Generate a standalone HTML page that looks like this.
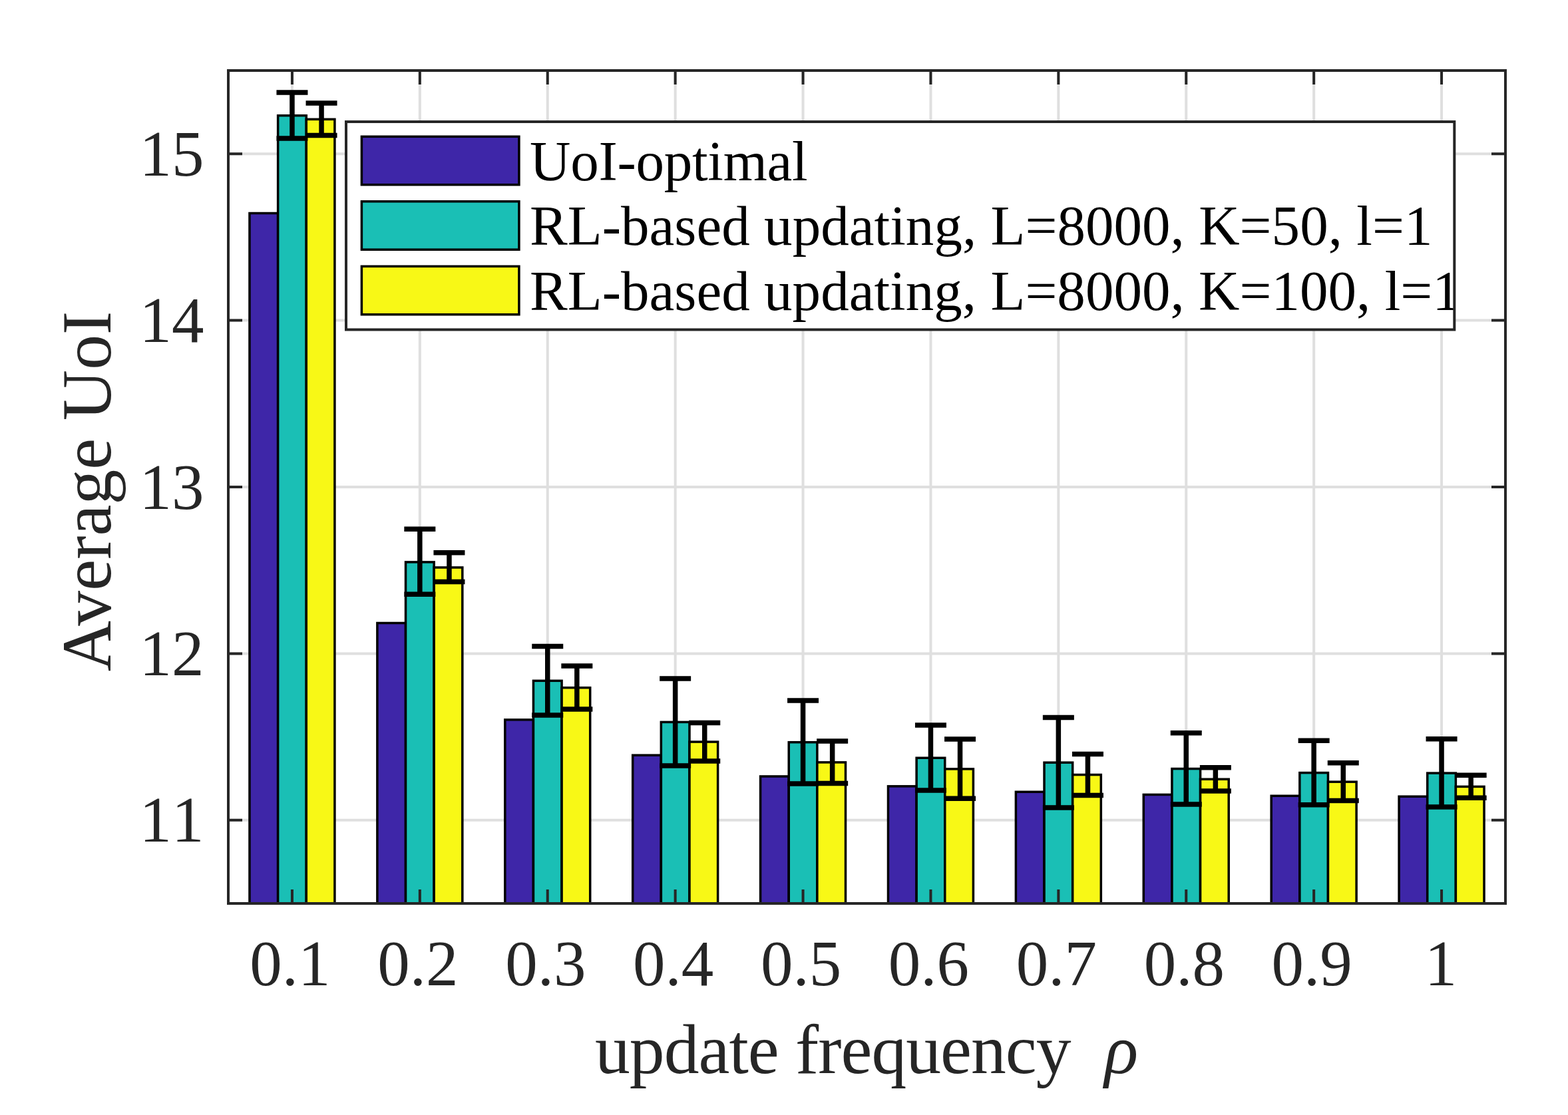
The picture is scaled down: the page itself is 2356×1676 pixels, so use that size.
<!DOCTYPE html>
<html><head><meta charset="utf-8"><title>Average UoI vs update frequency</title>
<style>html,body{margin:0;padding:0;background:#fff;}body{width:2356px;height:1676px;overflow:hidden;}svg{display:block;}</style>
</head><body>
<svg width="2356" height="1676" viewBox="0 0 2356 1676">
<rect x="0" y="0" width="2356" height="1676" fill="#ffffff"/>
<path d="M438.95 106.0V1358.0M630.85 106.0V1358.0M822.75 106.0V1358.0M1014.65 106.0V1358.0M1206.55 106.0V1358.0M1398.45 106.0V1358.0M1590.35 106.0V1358.0M1782.25 106.0V1358.0M1974.15 106.0V1358.0M2166.05 106.0V1358.0M343.0 1232.80H2262.0M343.0 982.40H2262.0M343.0 732.00H2262.0M343.0 481.60H2262.0M343.0 231.20H2262.0" stroke="#dfdfdf" stroke-width="4" fill="none"/>
<rect x="374.98" y="320.50" width="42.64" height="1047.50" fill="#3e26a8" stroke="#000" stroke-width="3.5"/>
<rect x="566.88" y="936.50" width="42.64" height="431.50" fill="#3e26a8" stroke="#000" stroke-width="3.5"/>
<rect x="758.78" y="1081.85" width="42.64" height="286.15" fill="#3e26a8" stroke="#000" stroke-width="3.5"/>
<rect x="950.68" y="1135.20" width="42.64" height="232.80" fill="#3e26a8" stroke="#000" stroke-width="3.5"/>
<rect x="1142.58" y="1167.00" width="42.64" height="201.00" fill="#3e26a8" stroke="#000" stroke-width="3.5"/>
<rect x="1334.48" y="1181.85" width="42.64" height="186.15" fill="#3e26a8" stroke="#000" stroke-width="3.5"/>
<rect x="1526.38" y="1190.30" width="42.64" height="177.70" fill="#3e26a8" stroke="#000" stroke-width="3.5"/>
<rect x="1718.28" y="1194.45" width="42.64" height="173.55" fill="#3e26a8" stroke="#000" stroke-width="3.5"/>
<rect x="1910.18" y="1196.30" width="42.64" height="171.70" fill="#3e26a8" stroke="#000" stroke-width="3.5"/>
<rect x="2102.08" y="1197.25" width="42.64" height="170.75" fill="#3e26a8" stroke="#000" stroke-width="3.5"/>
<rect x="417.63" y="173.70" width="42.64" height="1194.30" fill="#1abfb5" stroke="#000" stroke-width="3.5"/>
<rect x="609.53" y="844.90" width="42.64" height="523.10" fill="#1abfb5" stroke="#000" stroke-width="3.5"/>
<rect x="801.43" y="1023.30" width="42.64" height="344.70" fill="#1abfb5" stroke="#000" stroke-width="3.5"/>
<rect x="993.33" y="1085.40" width="42.64" height="282.60" fill="#1abfb5" stroke="#000" stroke-width="3.5"/>
<rect x="1185.23" y="1115.70" width="42.64" height="252.30" fill="#1abfb5" stroke="#000" stroke-width="3.5"/>
<rect x="1377.13" y="1139.25" width="42.64" height="228.75" fill="#1abfb5" stroke="#000" stroke-width="3.5"/>
<rect x="1569.03" y="1146.20" width="42.64" height="221.80" fill="#1abfb5" stroke="#000" stroke-width="3.5"/>
<rect x="1760.93" y="1155.55" width="42.64" height="212.45" fill="#1abfb5" stroke="#000" stroke-width="3.5"/>
<rect x="1952.83" y="1161.60" width="42.64" height="206.40" fill="#1abfb5" stroke="#000" stroke-width="3.5"/>
<rect x="2144.73" y="1162.10" width="42.64" height="205.90" fill="#1abfb5" stroke="#000" stroke-width="3.5"/>
<rect x="460.27" y="179.30" width="42.64" height="1188.70" fill="#f8f816" stroke="#000" stroke-width="3.5"/>
<rect x="652.17" y="853.00" width="42.64" height="515.00" fill="#f8f816" stroke="#000" stroke-width="3.5"/>
<rect x="844.07" y="1033.70" width="42.64" height="334.30" fill="#f8f816" stroke="#000" stroke-width="3.5"/>
<rect x="1035.97" y="1115.10" width="42.64" height="252.90" fill="#f8f816" stroke="#000" stroke-width="3.5"/>
<rect x="1227.87" y="1145.90" width="42.64" height="222.10" fill="#f8f816" stroke="#000" stroke-width="3.5"/>
<rect x="1419.77" y="1155.90" width="42.64" height="212.10" fill="#f8f816" stroke="#000" stroke-width="3.5"/>
<rect x="1611.67" y="1164.55" width="42.64" height="203.45" fill="#f8f816" stroke="#000" stroke-width="3.5"/>
<rect x="1803.57" y="1171.25" width="42.64" height="196.75" fill="#f8f816" stroke="#000" stroke-width="3.5"/>
<rect x="1995.47" y="1175.20" width="42.64" height="192.80" fill="#f8f816" stroke="#000" stroke-width="3.5"/>
<rect x="2187.37" y="1182.40" width="42.64" height="185.60" fill="#f8f816" stroke="#000" stroke-width="3.5"/>
<path d="M438.95 139.10V208.00M415.45 139.10H462.45M415.45 208.00H462.45M630.85 795.35V893.20M607.35 795.35H654.35M607.35 893.20H654.35M822.75 971.40V1075.10M799.25 971.40H846.25M799.25 1075.10H846.25M1014.65 1019.90V1150.90M991.15 1019.90H1038.15M991.15 1150.90H1038.15M1206.55 1053.10V1177.90M1183.05 1053.10H1230.05M1183.05 1177.90H1230.05M1398.45 1089.90V1187.90M1374.95 1089.90H1421.95M1374.95 1187.90H1421.95M1590.35 1078.50V1213.90M1566.85 1078.50H1613.85M1566.85 1213.90H1613.85M1782.25 1101.70V1209.10M1758.75 1101.70H1805.75M1758.75 1209.10H1805.75M1974.15 1113.15V1209.80M1950.65 1113.15H1997.65M1950.65 1209.80H1997.65M2166.05 1110.80V1213.00M2142.55 1110.80H2189.55M2142.55 1213.00H2189.55" stroke="#000" stroke-width="7.5" fill="none"/>
<path d="M483.05 155.00V203.50M459.55 155.00H506.55M459.55 203.50H506.55M674.95 830.70V874.50M651.45 830.70H698.45M651.45 874.50H698.45M866.85 1001.00V1065.90M843.35 1001.00H890.35M843.35 1065.90H890.35M1058.75 1086.40V1143.90M1035.25 1086.40H1082.25M1035.25 1143.90H1082.25M1250.65 1113.90V1177.50M1227.15 1113.90H1274.15M1227.15 1177.50H1274.15M1442.55 1111.10V1200.20M1419.05 1111.10H1466.05M1419.05 1200.20H1466.05M1634.45 1133.40V1195.50M1610.95 1133.40H1657.95M1610.95 1195.50H1657.95M1826.35 1153.80V1188.90M1802.85 1153.80H1849.85M1802.85 1188.90H1849.85M2018.25 1146.70V1203.45M1994.75 1146.70H2041.75M1994.75 1203.45H2041.75M2210.15 1165.20V1199.35M2186.65 1165.20H2233.65M2186.65 1199.35H2233.65" stroke="#000" stroke-width="7.5" fill="none"/>
<rect x="0" y="1358.0" width="2356" height="318.0" fill="#ffffff"/>
<path d="M438.95 1358.0V1337.0M438.95 106.0V127.0M630.85 1358.0V1337.0M630.85 106.0V127.0M822.75 1358.0V1337.0M822.75 106.0V127.0M1014.65 1358.0V1337.0M1014.65 106.0V127.0M1206.55 1358.0V1337.0M1206.55 106.0V127.0M1398.45 1358.0V1337.0M1398.45 106.0V127.0M1590.35 1358.0V1337.0M1590.35 106.0V127.0M1782.25 1358.0V1337.0M1782.25 106.0V127.0M1974.15 1358.0V1337.0M1974.15 106.0V127.0M2166.05 1358.0V1337.0M2166.05 106.0V127.0M343.0 1232.80H364.0M2262.0 1232.80H2241.0M343.0 982.40H364.0M2262.0 982.40H2241.0M343.0 732.00H364.0M2262.0 732.00H2241.0M343.0 481.60H364.0M2262.0 481.60H2241.0M343.0 231.20H364.0M2262.0 231.20H2241.0" stroke="#262626" stroke-width="4" fill="none"/>
<rect x="343.0" y="106.0" width="1919.0" height="1252.0" fill="none" stroke="#262626" stroke-width="4" stroke-linejoin="miter" stroke-linecap="square"/>
<defs><clipPath id="lc"><rect x="520.0" y="183.0" width="1665.3000000000002" height="312.5"/></clipPath></defs>
<rect x="520.0" y="183.0" width="1665.3000000000002" height="312.5" fill="#ffffff"/>
<rect x="543.4" y="205.30" width="236.5" height="72.4" fill="#3e26a8" stroke="#000" stroke-width="3.5"/>
<rect x="543.4" y="302.80" width="236.5" height="72.4" fill="#1abfb5" stroke="#000" stroke-width="3.5"/>
<rect x="543.4" y="400.35" width="236.5" height="72.4" fill="#f8f816" stroke="#000" stroke-width="3.5"/>
<text x="796" y="271.4" font-family="'Liberation Serif', serif" font-size="85" fill="#000" clip-path="url(#lc)" textLength="417.7" lengthAdjust="spacing">UoI-optimal</text>
<text x="796" y="368.3" font-family="'Liberation Serif', serif" font-size="85" fill="#000" clip-path="url(#lc)" textLength="1356.4" lengthAdjust="spacing">RL-based updating, L=8000, K=50, l=1</text>
<text x="796" y="466.2" font-family="'Liberation Serif', serif" font-size="85" fill="#000" clip-path="url(#lc)" textLength="1398.8" lengthAdjust="spacing">RL-based updating, L=8000, K=100, l=1</text>
<rect x="520.0" y="183.0" width="1665.3000000000002" height="312.5" fill="none" stroke="#262626" stroke-width="4"/>
<text x="435.95" y="1481" text-anchor="middle" font-family="'Liberation Serif', serif" font-size="97" fill="#262626">0.1</text>
<text x="627.85" y="1481" text-anchor="middle" font-family="'Liberation Serif', serif" font-size="97" fill="#262626">0.2</text>
<text x="819.75" y="1481" text-anchor="middle" font-family="'Liberation Serif', serif" font-size="97" fill="#262626">0.3</text>
<text x="1011.65" y="1481" text-anchor="middle" font-family="'Liberation Serif', serif" font-size="97" fill="#262626">0.4</text>
<text x="1203.55" y="1481" text-anchor="middle" font-family="'Liberation Serif', serif" font-size="97" fill="#262626">0.5</text>
<text x="1395.45" y="1481" text-anchor="middle" font-family="'Liberation Serif', serif" font-size="97" fill="#262626">0.6</text>
<text x="1587.35" y="1481" text-anchor="middle" font-family="'Liberation Serif', serif" font-size="97" fill="#262626">0.7</text>
<text x="1779.25" y="1481" text-anchor="middle" font-family="'Liberation Serif', serif" font-size="97" fill="#262626">0.8</text>
<text x="1971.15" y="1481" text-anchor="middle" font-family="'Liberation Serif', serif" font-size="97" fill="#262626">0.9</text>
<text x="2165.05" y="1481" text-anchor="middle" font-family="'Liberation Serif', serif" font-size="97" fill="#262626">1</text>
<text x="306.5" y="1265.30" text-anchor="end" font-family="'Liberation Serif', serif" font-size="97" fill="#262626" style="font-kerning:none">11</text>
<text x="306.5" y="1014.90" text-anchor="end" font-family="'Liberation Serif', serif" font-size="97" fill="#262626" style="font-kerning:none">12</text>
<text x="306.5" y="764.50" text-anchor="end" font-family="'Liberation Serif', serif" font-size="97" fill="#262626" style="font-kerning:none">13</text>
<text x="306.5" y="514.10" text-anchor="end" font-family="'Liberation Serif', serif" font-size="97" fill="#262626" style="font-kerning:none">14</text>
<text x="306.5" y="263.70" text-anchor="end" font-family="'Liberation Serif', serif" font-size="97" fill="#262626" style="font-kerning:none">15</text>
<text x="894" y="1612.8" font-family="'Liberation Serif', serif" font-size="105.6" fill="#262626" textLength="715.5" lengthAdjust="spacing">update frequency</text>
<text x="1659.5" y="1612.8" font-family="'Liberation Serif', serif" font-size="105.6" font-style="italic" fill="#262626">&#961;</text>
<text transform="translate(166 738.5) rotate(-90)" text-anchor="middle" font-family="'Liberation Serif', serif" font-size="105.6" fill="#262626" textLength="541.5" lengthAdjust="spacing">Average UoI</text>
</svg>
</body></html>
